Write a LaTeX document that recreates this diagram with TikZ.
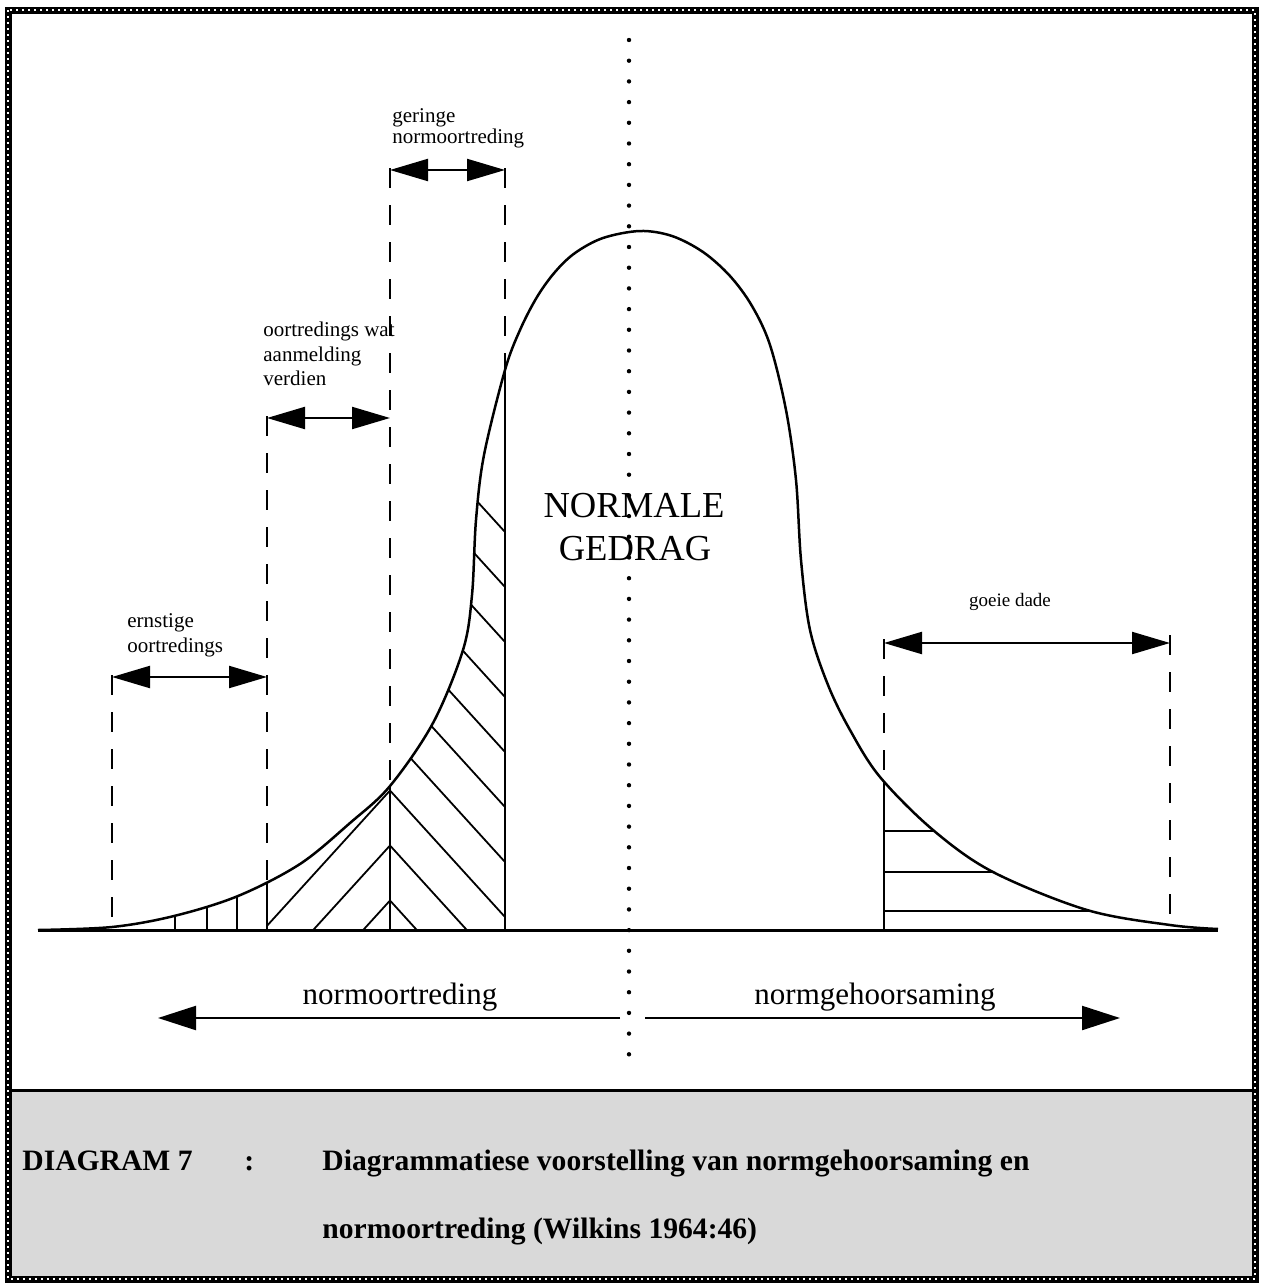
\documentclass[tikz,border=0pt]{standalone}
\usepackage{fontspec}
\setmainfont{Liberation Serif}
\usetikzlibrary{arrows.meta}
\newcommand\bellcurve{plot[smooth,tension=0.55] coordinates {(38,930) (112,927) (174,916) (238,896) (300,864) (350,823) (390,786) (433,723) (463,650) (472,595) (476,520) (484,455) (505,370) (520,330) (537,297) (555,272) (575,253) (603,238) (640,231) (672,236) (703,252) (730,276) (752,306) (770,345) (786,410) (796,480) (801,560) (810,630) (828,685) (850,730) (880,777) (933,830) (993,872) (1087,910) (1170,925) (1218,929)}}
\begin{document}
\begin{tikzpicture}[x=0.5pt,y=-0.5pt,
  curve/.style={line width=1.25pt},
  guide/.style={line width=1pt, dash pattern=on 10pt off 8.5pt},
  solidguide/.style={line width=1.1pt},
  hatch/.style={line width=0.9pt},
  span/.style={line width=1.1pt, {Triangle[length=19pt,width=11pt]}-{Triangle[length=19pt,width=11pt]}},
  bigarrow/.style={line width=1.1pt, -{Triangle[length=19pt,width=12pt]}},
  dotline/.style={line width=2.2pt, line cap=round, dash pattern=on 0pt off 10.35pt},
  small/.style={font=\fontsize{10.5}{12}\selectfont, inner sep=0pt, anchor=base west},
  mid/.style={font=\fontsize{15.5}{18}\selectfont, inner sep=0pt, anchor=base},
  big/.style={font=\fontsize{18.3}{21}\selectfont, inner sep=0pt, anchor=base},
  captext/.style={font=\fontsize{14.8}{17}\selectfont\bfseries, inner sep=0pt, anchor=base west}
]
\useasboundingbox (0,0) rectangle (1263,1285);
% caption background and frame
\fill[black!15] (8,1090) rectangle (1255,1279);
\draw[line width=1.5pt] (8,1090) -- (1255,1090);
\draw[line width=3.5pt] (8,10) rectangle (1255,1279);
\draw[line width=0.8pt, white, dash pattern=on 0.8pt off 2.2pt] (8,10) rectangle (1255,1279);

% axis
\draw[line width=1.5pt] (38,930) -- (1218,930);

% hatching and solid parts below the curve
\begin{scope}
  \clip \bellcurve -- (1218,931) -- (38,931) -- cycle;
  \foreach \x in {175,207,237,267,390,505,884}
    \draw[solidguide] (\x,931) -- (\x,300);
  \foreach \y in {532,587,642,697,752,807,862,917,972,1027}
    \draw[hatch] (505,\y) -- ++(-115,-126.5);
  \foreach \y in {790.5,845.5,900.5}
    \draw[hatch] (390,\y) -- ++(-123,135.3);
  \foreach \y in {831,872,911}
    \draw[hatch] (884,\y) -- (1120,\y);
\end{scope}

% bell curve
\draw[curve] \bellcurve;

% dashed guides
\coordinate (e1) at (112,677);
\coordinate (e2) at (267,677);
\coordinate (o1) at (267,418);
\coordinate (o2) at (390,418);
\coordinate (r1) at (390,170);
\coordinate (r2) at (505,170);
\coordinate (d1) at (884,643);
\coordinate (d2) at (1170,643);
\coordinate (g1b) at (112,930);
\coordinate (g2b) at (267,930);
\coordinate (g3b) at (390,930);
\coordinate (g4b) at (505,930);
\coordinate (g5b) at (884,930);
\coordinate (g6b) at (1170,928);
\draw[guide] ([yshift=1pt]e1) -- (g1b);
\draw[guide] ([yshift=1pt]o1) -- (g2b);
\draw[guide] ([yshift=1pt]r1) -- (g3b);
\draw[guide] ([yshift=1pt]r2) -- (g4b);
\draw[guide] ([yshift=2pt]d1) -- (g5b);
\draw[guide] ([yshift=4pt]d2) -- (g6b);

% span arrows
\draw[span] (e1) -- (e2);
\draw[span] (o1) -- (o2);
\draw[span] (r1) -- (r2);
\draw[span] (d1) -- (d2);

% centre dotted line
\coordinate (ctop) at (629,40);
\coordinate (cbot) at (629,1065);
\draw[dotline] (ctop) -- (cbot);

% bottom arrows
\coordinate (nl1) at (620,1018);
\coordinate (nl2) at (158,1018);
\coordinate (nr1) at (645,1018);
\coordinate (nr2) at (1120,1018);
\draw[bigarrow] (nl1) -- (nl2);
\draw[bigarrow] (nr1) -- (nr2);

% labels
\node[small] (t1a) at (392,122) {geringe};
\node[small] (t1b) at (392,143) {normoortreding};
\node[small] (t2a) at (263,336) {oortredings wat};
\node[small] (t2b) at (263,361) {aanmelding};
\node[small] (t2c) at (263,385) {verdien};
\node[small] (t3a) at (127,627) {ernstige};
\node[small] (t3b) at (127,652) {oortredings};
\node[small, anchor=base, font=\fontsize{9.5}{11}\selectfont] (t4) at (1010,606) {goeie dade};
\node[big] (n1) at (634,517) {NORMALE};
\node[big] (n2) at (635,560) {GEDRAG};
\node[mid] (m1) at (400,1004) {normoortreding};
\node[mid] (m2) at (875,1004) {normgehoorsaming};

% caption
\node[captext] (c1) at (22,1170) {DIAGRAM 7};
\node[captext] (c2) at (244,1170) {:};
\node[captext] (c3) at (322,1170) {Diagrammatiese voorstelling van normgehoorsaming en};
\node[captext] (c4) at (322,1238) {normoortreding (Wilkins 1964:46)};
\end{tikzpicture}
\end{document}
